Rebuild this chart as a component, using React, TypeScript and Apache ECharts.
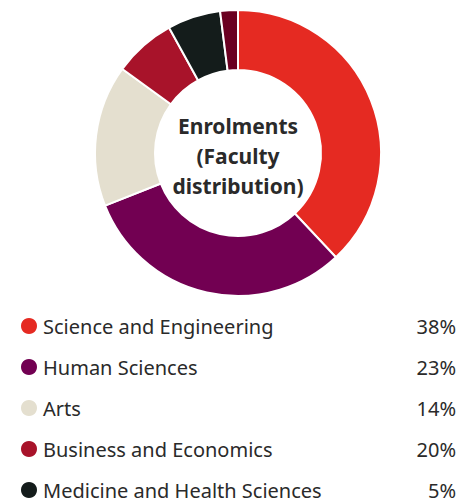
import React, { useEffect, useRef } from "react";
import * as echarts from "echarts";

const categories = [
  "Science and Engineering",
  "Human Sciences",
  "Arts",
  "Business and Economics",
  "Medicine and Health Sciences",
  "Other",
];
const sliceValues = [38, 31, 16, 7, 6, 2];
const legendPercents = ["38%", "23%", "14%", "20%", "5%", "2%"];
const legendShown = 5;
const colors = ["#e52a22", "#720052", "#e4dfcf", "#a8132a", "#141c1b", "#6b0021"];
const centerTitle = "Enrolments\n(Faculty\ndistribution)";

export default function App() {
  const ref = useRef<HTMLDivElement>(null);
  useEffect(() => {
    document.body.style.margin = "0";
    const chart = echarts.init(ref.current!, null, { renderer: "svg" });
    const pctMap: Record<string, string> = {};
    categories.forEach((c, i) => (pctMap[c] = legendPercents[i]));
    chart.setOption({
      animation: false,
      color: colors,
      legend: {
        orient: "vertical",
        left: 19,
        top: 316,
        padding: 0,
        icon: "circle",
        itemWidth: 18,
        itemHeight: 18,
        itemGap: 21,
        selectedMode: false,
        data: categories.slice(0, legendShown),
        formatter: (name: string) => `{n|${name}}{p|${pctMap[name]}}`,
        textStyle: {
          rich: {
            n: { width: 366, fontSize: 20, lineHeight: 18, color: "#2a2a2a", fontFamily: "Noto Sans" },
            p: { width: 47, align: "right", fontSize: 20, lineHeight: 18, color: "#2a2a2a", fontFamily: "Noto Sans" },
          },
        },
      },
      graphic: [
        {
          type: "text",
          x: 238,
          y: 156,
          style: {
            text: centerTitle,
            fontSize: 21,
            fontWeight: "bold",
            fontFamily: "Noto Sans",
            lineHeight: 30,
            fill: "#2a2a2a",
            align: "center",
            verticalAlign: "middle",
          },
        },
      ],
      series: [
        {
          type: "pie",
          center: [238, 153],
          radius: [83, 143],
          startAngle: 90,
          clockwise: true,
          label: { show: false },
          labelLine: { show: false },
          emphasis: { disabled: true },
          itemStyle: { borderColor: "#ffffff", borderWidth: 2 },
          data: categories.map((c, i) => ({ name: c, value: sliceValues[i] })),
        },
      ],
    });
    return () => chart.dispose();
  }, []);
  return <div ref={ref} style={{ width: 461, height: 503 }} />;
}
